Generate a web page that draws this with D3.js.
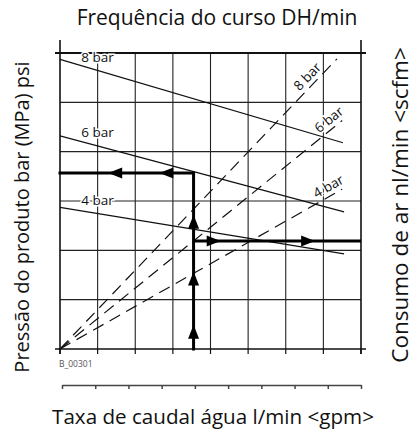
<!DOCTYPE html>
<html>
<head>
<meta charset="utf-8">
<script src="https://d3js.org/d3.v7.min.js"></script>
<style>
  body { margin: 0; background: white; }
  text { font-family: "Open Sans", sans-serif; }
</style>
</head>
<body>
<div id="container"></div>
<script>
// grid: 8 columns (frequency) x 6 rows (pressure), no numeric labels in the source
const gridX = [0, 1, 2, 3, 4, 5, 6, 7, 8]
const gridY = [0, 1, 2, 3, 4, 5, 6]
const flowTicks = [0, 1, 2, 3, 4, 5, 6, 7, 8, 9]

// solid lines: pressure vs stroke frequency
const pressureNames = ["8 bar", "6 bar", "4 bar"]
const pressureStart = [5.87, 4.32, 2.87]
const pressureEndX = [7.52, 7.55, 7.55]
const pressureEnd = [4.18, 2.78, 1.93]

// dashed lines: air consumption, all from the origin
const airNames = ["8 bar", "6 bar", "4 bar"]
const airEndX = [7.36, 7.5, 7.5]
const airEndY = [5.88, 4.63, 3.24]
const airLabelAt = [6.75, 7.3, 7.25]

// reading example (thick lines with arrows)
const readX = 3.55
const readPressure = 3.57
const readAir = 2.19
const upArrows = [0.49, 1.57, 2.72]
const leftArrows = [1.28, 2.64]
const rightArrows = [4.27, 6.78]

const w = 414, h = 436
const svg = d3.select("#container").append("svg").attr("width", w).attr("height", h)

const x = d3.scaleLinear().domain([0, 8]).range([60, 361])
const y = d3.scaleLinear().domain([0, 6]).range([349, 53])
const flow = d3.scaleLinear().domain([0, 9]).range([62, 361])

// grid
svg.append("g").selectAll("line").data(gridX.slice(1, -1)).enter().append("line")
    .attr("x1", d => x(d)).attr("x2", d => x(d)).attr("y1", y(6)).attr("y2", y(0))
    .attr("stroke", "#222").attr("stroke-width", 1.1)
svg.append("g").selectAll("line").data(gridY.slice(1, -1)).enter().append("line")
    .attr("x1", x(0)).attr("x2", x(8)).attr("y1", d => y(d)).attr("y2", d => y(d))
    .attr("stroke", "#222").attr("stroke-width", 1.1)

// frame
const frame = svg.append("g").attr("stroke", "#111").attr("stroke-width", 1.6)
frame.append("line").attr("x1", x(0) - 5).attr("x2", x(8) + 5).attr("y1", y(6)).attr("y2", y(6)).attr("stroke-width", 2)
frame.append("line").attr("x1", x(0) - 5).attr("x2", x(8) + 5).attr("y1", y(0)).attr("y2", y(0))
frame.append("line").attr("x1", x(0)).attr("x2", x(0)).attr("y1", y(6) - 13).attr("y2", y(0) + 5)
frame.append("line").attr("x1", x(8)).attr("x2", x(8)).attr("y1", y(6) - 13).attr("y2", y(0) + 5)
svg.append("g").selectAll("line").data(gridX).enter().append("line")
    .attr("x1", d => x(d)).attr("x2", d => x(d)).attr("y1", y(0)).attr("y2", y(0) + 5)
    .attr("stroke", "#111").attr("stroke-width", 1.2)

// secondary flow axis
const flowAxis = svg.append("g").attr("transform", "translate(0,385)")
    .call(d3.axisBottom(flow).tickValues(flowTicks).tickSize(4).tickSizeOuter(0).tickFormat(""))
flowAxis.selectAll("path, line").attr("stroke", "#444").attr("stroke-width", 1.5)

// pressure lines
const line = d3.line().x(d => x(d[0])).y(d => y(d[1]))
pressureNames.forEach((name, i) => {
    svg.append("path").attr("d", line([[0, pressureStart[i]], [pressureEndX[i], pressureEnd[i]]]))
        .attr("fill", "none").attr("stroke", "#111").attr("stroke-width", 1.2)
    const ly = y(pressureStart[i] + (pressureEnd[i] - pressureStart[i]) / pressureEndX[i]) - 13
    svg.append("text").attr("x", x(1)).attr("y", ly + 4.5).attr("text-anchor", "middle")
        .attr("font-size", 13.5).attr("fill", "#111")
        .attr("stroke", "white").attr("stroke-width", 3).attr("paint-order", "stroke")
        .text(name)
})

// air consumption lines
airNames.forEach((name, i) => {
    svg.append("path").attr("d", line([[0, 0], [airEndX[i], airEndY[i]]]))
        .attr("fill", "none").attr("stroke", "#111").attr("stroke-width", 1.2)
        .attr("stroke-dasharray", "12,7")
    const px = x(airLabelAt[i]), py = y(airEndY[i] / airEndX[i] * airLabelAt[i])
    const ang = Math.atan2(y(0) - y(airEndY[i]), x(airEndX[i]) - x(0))
    const d = 9
    const lx = px - d * Math.sin(ang), ly = py - d * Math.cos(ang)
    svg.append("text").attr("transform", `translate(${lx},${ly}) rotate(${-ang * 180 / Math.PI})`)
        .attr("dy", 4.5).attr("text-anchor", "middle").attr("font-size", 13.5).attr("fill", "#111")
        .attr("stroke", "white").attr("stroke-width", 3).attr("paint-order", "stroke")
        .text(name)
})

// reading example
const thick = svg.append("g").attr("stroke", "#000").attr("stroke-width", 3).attr("fill", "none")
thick.append("path").attr("d", line([[readX, 0], [readX, readPressure], [0, readPressure]]))
    .attr("stroke-linejoin", "miter").attr("stroke-linecap", "square")
thick.append("path").attr("d", line([[readX, readAir], [8, readAir]]))

function arrow(tx, ty, dir) {
    // dir: "up", "left", "right"
    const L = 14, W = 5.5
    let pts
    if (dir === "up") pts = [[tx, ty], [tx - W, ty + L], [tx + W, ty + L]]
    if (dir === "left") pts = [[tx, ty], [tx + L, ty - W], [tx + L, ty + W]]
    if (dir === "right") pts = [[tx, ty], [tx - L, ty - W], [tx - L, ty + W]]
    svg.append("path").attr("d", "M" + pts.join("L") + "Z").attr("fill", "#000")
}
upArrows.forEach(v => arrow(x(readX), y(v), "up"))
leftArrows.forEach(v => arrow(x(v), y(readPressure), "left"))
rightArrows.forEach(v => arrow(x(v), y(readAir), "right"))

// texts
svg.append("text").attr("x", 217).attr("y", 25).attr("text-anchor", "middle")
    .attr("font-size", 21).attr("fill", "#111").text("Frequência do curso DH/min")
svg.append("text").attr("transform", "translate(29,217) rotate(-90)").attr("text-anchor", "middle")
    .attr("font-size", 20).attr("fill", "#111").text("Pressão do produto bar (MPa) psi")
svg.append("text").attr("transform", "translate(408,205) rotate(-90)").attr("text-anchor", "middle")
    .attr("font-size", 22.5).attr("fill", "#111").text("Consumo de ar nl/min <scfm>")
svg.append("text").attr("x", 213).attr("y", 424).attr("text-anchor", "middle")
    .attr("font-size", 20.6).attr("fill", "#111").text("Taxa de caudal água l/min <gpm>")
svg.append("text").attr("x", 59).attr("y", 367).attr("font-size", 8.5).attr("fill", "#555").text("B_00301")
</script>
</body>
</html>
